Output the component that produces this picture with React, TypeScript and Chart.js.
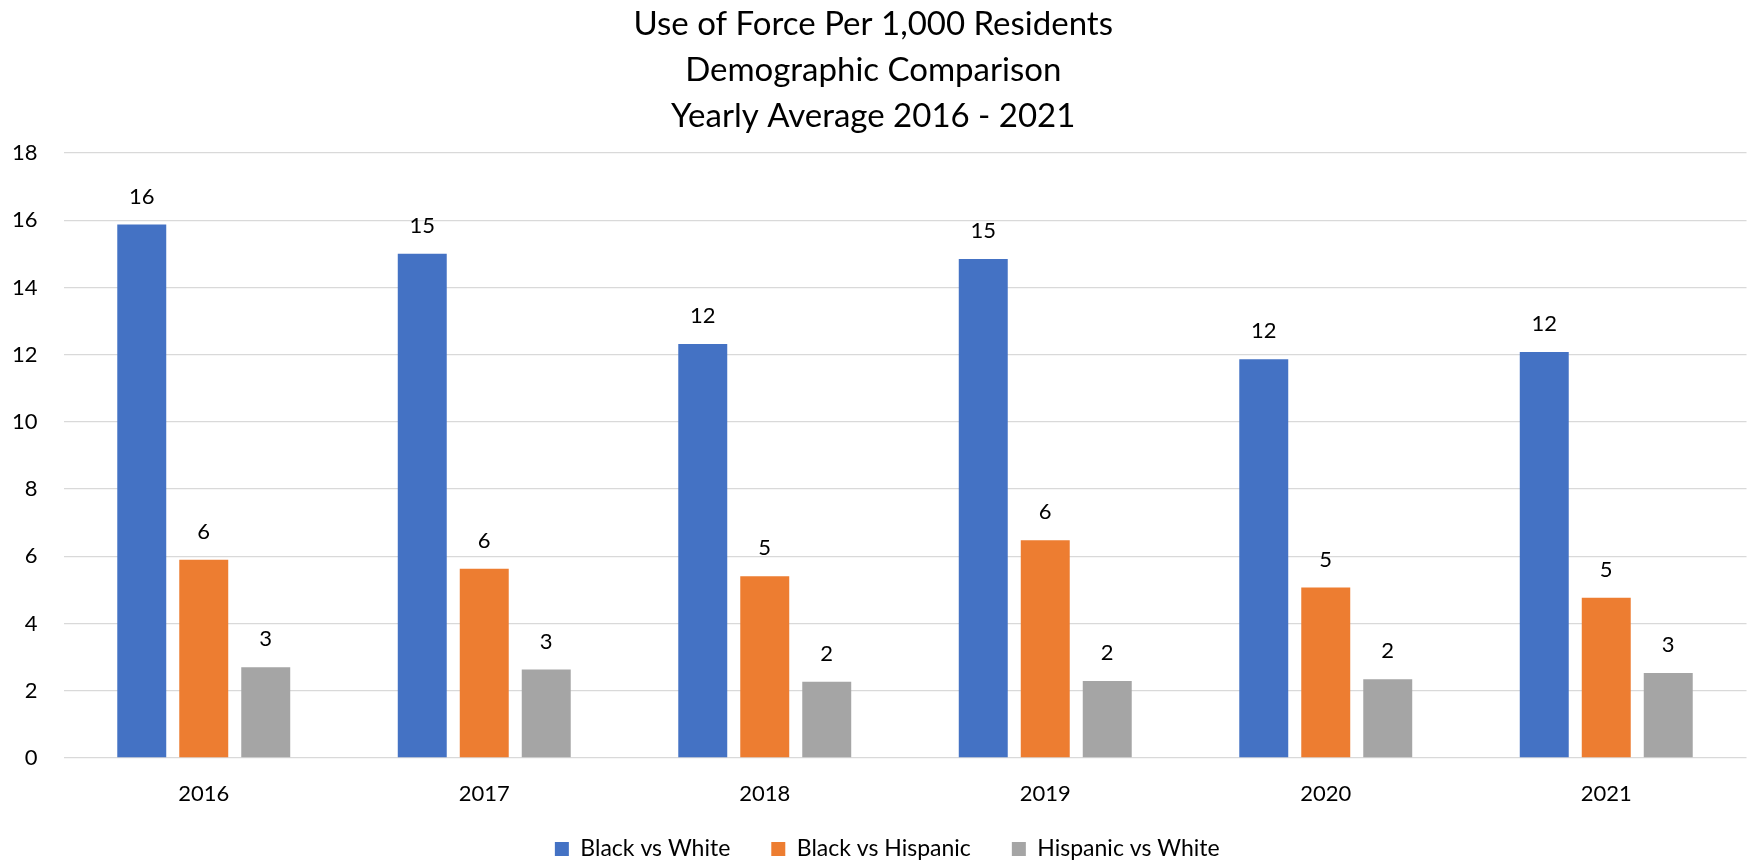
import React, { useEffect, useRef } from 'react';
import { Chart, registerables } from 'chart.js';

Chart.register(...registerables);

const categories = ['2016', '2017', '2018', '2019', '2020', '2021'];
const seriesNames = ['Black vs White', 'Black vs Hispanic', 'Hispanic vs White'];
const blackVsWhite = [15.87, 15.0, 12.32, 14.85, 11.86, 12.08];
const blackVsHispanic = [5.9, 5.63, 5.41, 6.48, 5.07, 4.77];
const hispanicVsWhite = [2.7, 2.63, 2.27, 2.29, 2.34, 2.53];
const seriesColors = ['#4472C4', '#ED7D31', '#A5A5A5'];
const titleLines = ['Use of Force Per 1,000 Residents', 'Demographic Comparison', 'Yearly Average 2016 - 2021'];
const yMin = 0;
const yMax = 18;
const yStep = 2;

const FONT = 'Lato, "Open Sans", sans-serif';

const dataLabelPlugin = {
  id: 'dataLabels',
  afterDatasetsDraw(chart: any) {
    const ctx = chart.ctx;
    ctx.save();
    ctx.font = `22px ${FONT}`;
    ctx.fillStyle = '#000000';
    ctx.textAlign = 'center';
    ctx.textBaseline = 'middle';
    chart.data.datasets.forEach((ds: any, di: number) => {
      const meta = chart.getDatasetMeta(di);
      meta.data.forEach((el: any, i: number) => {
        const v = ds.data[i];
        ctx.fillText(String(Math.round(v)), el.x, el.y - 28);
      });
    });
    ctx.restore();
  },
};

// Nudge the built-in legend box so its items sit where the reference has them.
const legendPlacePlugin = {
  id: 'legendPlace',
  afterLayout(chart: any) {
    const lg = chart.legend;
    if (!lg) return;
    lg.top = 796.5;
    lg.bottom = chart.height;
    lg.height = lg.bottom - lg.top;
    lg.left += 14;
    lg.right += 14;
  },
};

export default function App() {
  const ref = useRef<HTMLCanvasElement | null>(null);

  useEffect(() => {
    document.body.style.margin = '0';
    const canvas = ref.current;
    if (!canvas) return;
    const seriesData = [blackVsWhite, blackVsHispanic, hispanicVsWhite];
    const chart = new Chart(canvas, {
      type: 'bar',
      data: {
        labels: categories,
        datasets: seriesNames.map((name, i) => ({
          label: name,
          data: seriesData[i],
          backgroundColor: seriesColors[i],
          borderWidth: 0,
          barPercentage: 0.79,
          categoryPercentage: 0.663,
        })),
      },
      options: {
        responsive: false,
        animation: false,
        layout: { padding: { left: 0, right: 9.5, top: 0, bottom: 0 } },
        plugins: {
          title: {
            display: true,
            text: titleLines,
            color: '#000000',
            font: { family: FONT, size: 33, weight: 'normal', lineHeight: 46 / 33 },
            padding: { top: 1, bottom: 14 },
          },
          legend: {
            display: true,
            position: 'bottom',
            maxHeight: 59,
            labels: {
              color: '#000000',
              font: { family: FONT, size: 23 },
              boxWidth: 14,
              boxHeight: 14,
              padding: 41,
            },
          },
          tooltip: { enabled: false },
        },
        scales: {
          x: {
            grid: { display: false, drawTicks: false },
            border: { display: false },
            ticks: { color: '#000000', font: { family: FONT, size: 22 }, padding: 23 },
            afterFit: (scale: any) => {
              scale.height = 45;
            },
          },
          y: {
            min: yMin,
            max: yMax,
            ticks: { stepSize: yStep, color: '#000000', font: { family: FONT, size: 22 }, padding: 26 },
            grid: { color: '#D9D9D9', lineWidth: 1.3, drawTicks: false },
            border: { display: false },
            afterFit: (scale: any) => {
              scale.width = 63.5;
            },
          },
        },
      },
      plugins: [dataLabelPlugin, legendPlacePlugin],
    });
    return () => chart.destroy();
  }, []);

  return (
    <div style={{ position: 'absolute', left: 0, top: 0, width: 1756, height: 862 }}>
      <canvas ref={ref} width={1756} height={862} style={{ display: 'block' }} />
    </div>
  );
}
